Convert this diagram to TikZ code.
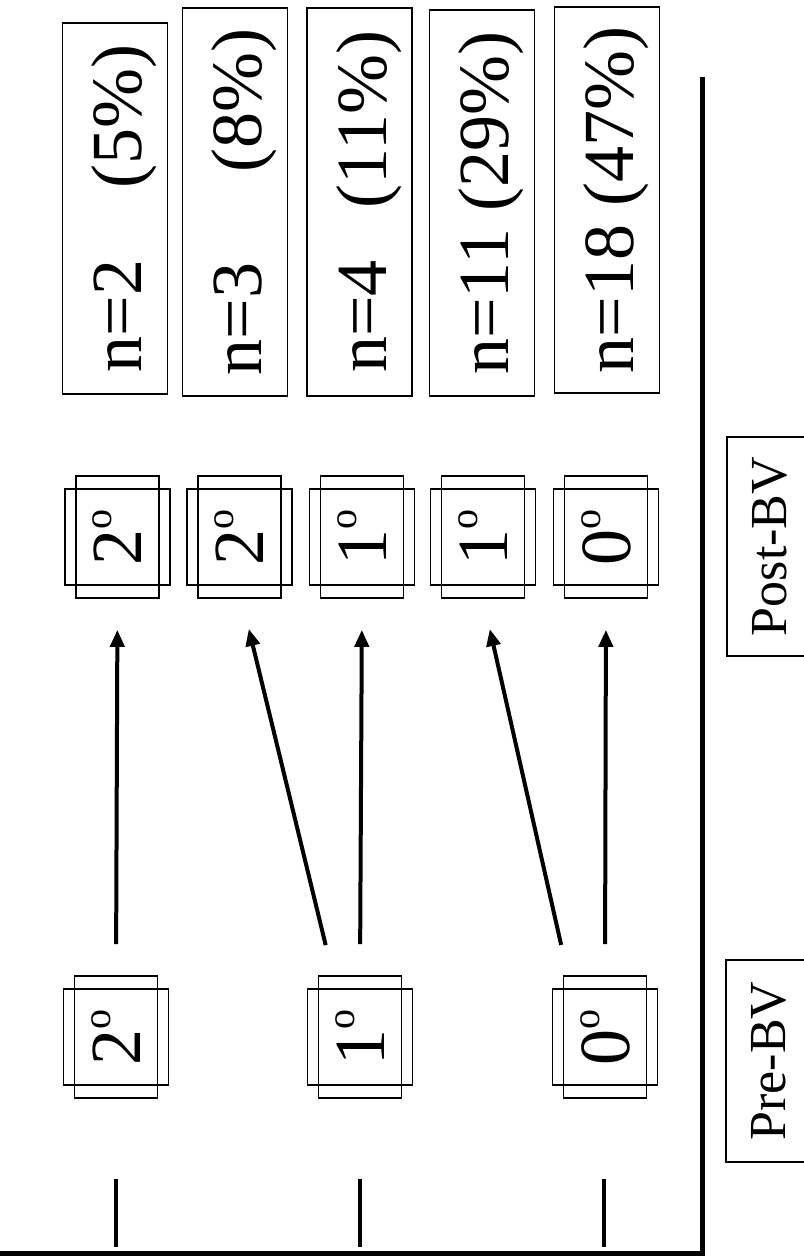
\documentclass[tikz,border=0pt]{standalone}
\usepackage{fontspec}
\setmainfont{Liberation Serif}
\usetikzlibrary{arrows.meta}
\newcommand{\degsign}{\raisebox{30pt}{\fontsize{40}{40}\selectfont o}}
\begin{document}
\begin{tikzpicture}[x=1pt,y=-1pt,
  bigfont/.style={font=\fontsize{72}{78}\selectfont},
  tallbox/.style={draw, line width=1.6pt, minimum width=83pt, minimum height=122pt, inner sep=0pt},
  degbox/.style={draw, line width=1.6pt, rotate=90, minimum width=96pt, minimum height=105pt,
    inner sep=0pt, bigfont, text height=48pt, text depth=0pt},
  nbox/.style={draw, line width=1.6pt, rotate=90, minimum height=105pt, inner sep=0pt,
    bigfont, text height=53pt, text depth=0pt},
  phasebox/.style={draw, line width=1.4pt, rotate=90, minimum height=84pt, inner sep=0pt,
    font=\fontsize{52}{56}\selectfont, text height=34pt, text depth=0pt},
  conn/.style={line width=4pt, -{Triangle[length=17pt,width=14pt]}, shorten <=31pt, shorten >=31pt},
  tick/.style={line width=4pt},
  axis/.style={line width=5pt}
]
\useasboundingbox (0,0) rectangle (803,1258);

% axes
\draw[axis] (0,1253) -- (702,1253) -- (702,77);

% ticks
\draw[tick] (116,1179) -- (116,1247);
\draw[tick] (360,1179) -- (360,1247);
\draw[tick] (604,1179) -- (604,1247);

% phase labels
\node[phasebox, minimum width=202pt] (pre) at (768,1061) {Pre-BV};
\node[phasebox, minimum width=219pt] (post) at (769,546.5) {Post-BV};

% pre-BV degree boxes
\node[tallbox] (pre2) at (116,1037) {};
\node[degbox] (pre2t) at (116,1037) {2\degsign};
\node[tallbox] (pre1) at (360,1037) {};
\node[degbox] (pre1t) at (360,1037) {1\degsign};
\node[tallbox] (pre0) at (605,1037) {};
\node[degbox] (pre0t) at (605,1037) {0\degsign};

% post-BV degree boxes
\node[tallbox] (postA) at (117.5,537) {};
\node[degbox] (postAt) at (117.5,537) {2\degsign};
\node[tallbox] (postB) at (239.5,537) {};
\node[degbox] (postBt) at (239.5,537) {2\degsign};
\node[tallbox] (postC) at (362,537) {};
\node[degbox] (postCt) at (362,537) {1\degsign};
\node[tallbox] (postD) at (483,537) {};
\node[degbox] (postDt) at (483,537) {1\degsign};
\node[tallbox] (postE) at (606,537) {};
\node[degbox] (postEt) at (606,537) {0\degsign};

% n boxes
\node[nbox, minimum width=371pt] (nA) at (115,208.5) {n=2\hspace{71pt}(5\%)};
\node[nbox, minimum width=388pt] (nB) at (235,202) {n=3\hspace{90pt}(8\%)};
\node[nbox, minimum width=388pt] (nC) at (359.5,202) {n=4\hspace{52pt}(11\%)};
\node[nbox, minimum width=386pt] (nD) at (482,203) {n=11 (29\%)};
\node[nbox, minimum width=386pt] (nE) at (607,200) {n=18 (47\%)};

% transitions
\draw[conn] (pre2.north) -- (postA.south);
\draw[conn] ([xshift=-27pt]pre1.north) -- ([xshift=2pt]postB.south);
\draw[conn] (pre1.north) -- (postC.south);
\draw[conn] ([xshift=-37pt]pre0.north) -- (postD.south);
\draw[conn] (pre0.north) -- (postE.south);
\end{tikzpicture}
\end{document}
